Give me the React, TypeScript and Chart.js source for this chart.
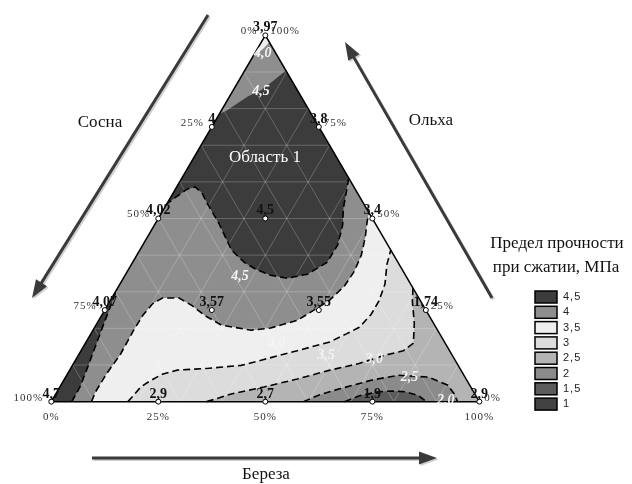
import React, { useEffect, useRef } from "react";
import { Chart, registerables } from "chart.js";

Chart.register(...registerables);

type TP = [number, number]; // [Береза %, Ольха %]; Сосна = 100 - Береза - Ольха

// ---------------- data ----------------
const gridSteps = [10, 20, 30, 40, 50, 60, 70, 80, 90];
const edgeTicks = [0, 25, 50, 75, 100];

const sampleBereza = [0, 0, 0, 0, 0, 25, 50, 75, 100, 25, 50, 75, 25, 25, 50];
const sampleOlkha = [100, 75, 50, 25, 0, 75, 50, 25, 0, 0, 0, 0, 50, 25, 25];
const sampleValues = [3.97, 4, 4.02, 4.07, 4.7, 3.8, 3.4, 1.74, 2.9, 2.9, 2.7, 1.9, 4.5, 3.57, 3.55];

const legendLabels = ["4,5", "4", "3,5", "3", "2,5", "2", "1,5", "1"];
const legendColors = ["#3c3c3c", "#8e8e8e", "#efefef", "#dcdcdc", "#b4b4b4", "#8b8b8b", "#5c5c5c", "#424242"];

// contour lines (ternary coordinates)
const contour45: TP[] = [
  [39.0, 61.0], [40.2, 57.5], [41.8, 52.9], [44.0, 48.1], [45.5, 42.8], [45.4, 38.0], [42.4, 34.8],
  [38.3, 33.7], [34.0, 34.5], [29.8, 36.1], [26.1, 38.0], [21.4, 41.4], [14.8, 48.7], [9.2, 54.3],
  [6.7, 57.0], [4.3, 58.6], [2.7, 58.0], [1.4, 56.1], [0, 54.0],
];
const contour45Top: TP[] = [
  [0, 78.5], [1.2, 79.4], [2.9, 81.6], [4.3, 83.4], [6.5, 85.0], [8.1, 87.7], [9.6, 90.4],
];
const contour45Strip: TP[] = [
  [4.8, 0], [4.7, 4.0], [3.8, 9.4], [2.1, 18.7], [0.7, 26.7], [0, 30.7],
];
const contour40: TP[] = [
  [9.4, 0], [9.0, 2.7], [9.1, 7.5], [9.7, 12.8], [9.5, 19.3], [9.6, 23.5], [10.3, 26.7], [11.8, 28.3],
  [15.7, 28.3], [19.8, 26.2], [24.1, 23.5], [29.3, 20.9], [36.9, 19.5], [41.2, 20.1], [46.4, 22.2],
  [49.0, 25.1], [51.2, 27.8], [52.7, 31.6], [53.0, 35.6], [52.4, 40.1], [50.9, 44.9], [49.3, 48.9], [48.4, 51.6],
];
const contour40Top: TP[] = [[1.9, 98.1], [1.3, 96.3], [0, 93.9]];
const contour35: TP[] = [
  [17.9, 0], [18.4, 1.9], [18.9, 4.0], [20.2, 5.6], [22.2, 7.5], [25.1, 8.6], [32.2, 9.1], [39.4, 9.9],
  [43.9, 11.5], [50.5, 13.9], [56.9, 16.3], [59.7, 18.5], [61.8, 20.3], [62.8, 23.8], [62.8, 27.5],
  [61.9, 32.1], [59.7, 37.4], [58.6, 41.4],
];
const contour30: TP[] = [
  [36.3, 0], [38.2, 0.8], [41.0, 2.1], [47.7, 4.0], [54.4, 6.2], [60.8, 8.6], [66.7, 10.4], [71.4, 12.6],
  [75.3, 13.9], [76.6, 16.0], [74.1, 21.4], [70.6, 27.5], [69.0, 31.0],
];
const contour25: TP[] = [
  [58.9, 0], [61.8, 1.9], [65.6, 3.5], [72.0, 5.9], [77.5, 7.2], [84.7, 6.7], [90.4, 4.5], [93.3, 1.9], [94.9, 0],
];
const contour20: TP[] = [
  [68.5, 0], [71.2, 1.6], [75.2, 2.7], [78.1, 2.9], [81.4, 2.7], [85.0, 1.6], [87.6, 0],
];

const contourLabels = ["4,0", "4,5", "4,5", "4,0", "3,5", "3,0", "2,5", "2,0"];
const contourLabelAt: TP[] = [
  [1.8, 95.2], [6.6, 84.8], [27.0, 34.2], [44.6, 16.0], [57.9, 12.6], [69.7, 11.5], [80.3, 6.7], [92.0, 0.3],
];
const regionLabel = "Область 1";
const regionLabelAt: TP = [16.6, 66.6];

// ---------------- helpers ----------------
const toXY = (p: TP) => ({ x: p[0] + p[1] / 2, y: p[1] });
const fmt = (v: number) => String(v).replace(".", ",");

const polygon = (pts: TP[], color: string, order: number) => ({
  data: pts.map(toXY),
  showLine: true,
  fill: "shape",
  backgroundColor: color,
  borderColor: "rgba(0,0,0,0)",
  borderWidth: 0,
  pointRadius: 0,
  pointHoverRadius: 0,
  tension: 0,
  order,
});

const polyline = (pts: TP[], color: string, width: number, dash: number[], order: number) => ({
  data: pts.map(toXY),
  showLine: true,
  fill: false,
  borderColor: color,
  backgroundColor: color,
  borderWidth: width,
  borderDash: dash,
  pointRadius: 0,
  pointHoverRadius: 0,
  tension: 0,
  order,
});

function drawArrow(ctx: CanvasRenderingContext2D, x1: number, y1: number, x2: number, y2: number, color: string) {
  const ang = Math.atan2(y2 - y1, x2 - x1);
  const hl = 18, hw = 13;
  const bx = x2 - hl * Math.cos(ang), by = y2 - hl * Math.sin(ang);
  ctx.strokeStyle = color;
  ctx.fillStyle = color;
  ctx.lineWidth = 3;
  ctx.beginPath();
  ctx.moveTo(x1, y1);
  ctx.lineTo(bx + 2 * Math.cos(ang), by + 2 * Math.sin(ang));
  ctx.stroke();
  ctx.beginPath();
  ctx.moveTo(x2, y2);
  ctx.lineTo(bx + (hw / 2) * Math.sin(ang), by - (hw / 2) * Math.cos(ang));
  ctx.lineTo(bx - (hw / 2) * Math.sin(ang), by + (hw / 2) * Math.cos(ang));
  ctx.closePath();
  ctx.fill();
}

const decorPlugin = {
  id: "ternaryDecor",
  afterDatasetsDraw(chart: any) {
    const ctx: CanvasRenderingContext2D = chart.ctx;
    const sx = chart.scales.x, sy = chart.scales.y;
    const P = (b: number, o: number) => [sx.getPixelForValue(b + o / 2), sy.getPixelForValue(o)];
    ctx.save();

    // contour labels (white italic)
    ctx.font = "italic bold 14px 'Liberation Serif', serif";
    ctx.fillStyle = "#f4f4f4";
    ctx.textAlign = "center";
    ctx.textBaseline = "middle";
    contourLabels.forEach((t, i) => {
      const [x, y] = P(contourLabelAt[i][0], contourLabelAt[i][1]);
      ctx.fillText(t, x, y);
    });

    // region label
    ctx.font = "17px 'Liberation Serif', serif";
    ctx.fillStyle = "#ffffff";
    {
      const [x, y] = P(regionLabelAt[0], regionLabelAt[1]);
      ctx.fillText(regionLabel, x, y);
    }

    // sample value labels
    ctx.font = "bold 14px 'Liberation Serif', serif";
    ctx.fillStyle = "#111111";
    ctx.textBaseline = "alphabetic";
    sampleValues.forEach((v, i) => {
      const [x, y] = P(sampleBereza[i], sampleOlkha[i]);
      ctx.fillText(fmt(v), x, y - 4);
    });

    // edge tick labels
    ctx.font = "11px 'Liberation Serif', serif";
    (ctx as any).letterSpacing = "1px";
    ctx.fillStyle = "#333333";
    ctx.textBaseline = "middle";
    edgeTicks.forEach((t) => {
      // Береза (bottom)
      let [x, y] = P(t, 0);
      ctx.textAlign = "center";
      ctx.fillText(t + "%", x, y + 15);
      // Сосна (left edge)
      [x, y] = P(0, 100 - t);
      ctx.textAlign = "right";
      ctx.fillText(t + "%", x - 8, y - 4);
      // Ольха (right edge)
      [x, y] = P(100 - t, t);
      ctx.textAlign = "left";
      ctx.fillText(t + "%", x + 5, y - 4);
    });
    (ctx as any).letterSpacing = "0px";

    // axis names and arrows
    ctx.font = "17px 'Liberation Serif', serif";
    ctx.fillStyle = "#111111";
    ctx.textAlign = "center";
    ctx.fillText("Сосна", 100, 123);
    ctx.fillText("Ольха", 431, 121);
    ctx.fillText("Береза", 266, 475);

    const arrows = [
      [208, 15, 32, 298],
      [492, 298, 345, 42],
      [92, 458, 437, 458],
    ];
    arrows.forEach(([a, b, c, d]) => drawArrow(ctx, a + 1.5, b + 1.5, c + 1.5, d + 1.5, "#cfcfcf"));
    arrows.forEach(([a, b, c, d]) => drawArrow(ctx, a, b, c, d, "#3a3a3a"));

    // legend
    ctx.fillStyle = "#111111";
    ctx.font = "17px 'Liberation Serif', serif";
    ctx.textAlign = "center";
    ctx.fillText("Предел прочности", 557, 244);
    ctx.fillText("при сжатии, МПа", 556, 268);
    legendLabels.forEach((lab, i) => {
      const yc = 297 + i * 15.3;
      ctx.fillStyle = legendColors[i];
      ctx.fillRect(535, yc - 6, 22, 12);
      ctx.strokeStyle = "#000000";
      ctx.lineWidth = 1.5;
      ctx.strokeRect(535, yc - 6, 22, 12);
      ctx.fillStyle = "#222222";
      ctx.font = "11px 'Liberation Sans', sans-serif";
      (ctx as any).letterSpacing = "1px";
      ctx.textAlign = "left";
      ctx.fillText(lab, 563, yc);
      (ctx as any).letterSpacing = "0px";
    });

    ctx.restore();
  },
};

export default function App() {
  const canvasRef = useRef<HTMLCanvasElement | null>(null);

  useEffect(() => {
    const canvas = canvasRef.current;
    if (!canvas) return;

    const datasets: any[] = [];
    // filled bands (higher order = painted earlier)
    datasets.push(polygon([[0, 0], [100, 0], [0, 100]], legendColors[4], 100));
    datasets.push(polygon(contour25, legendColors[5], 99));
    datasets.push(polygon(contour20, legendColors[6], 98));
    datasets.push(polygon([...contour30, [0, 100], [0, 0]], legendColors[3], 97));
    datasets.push(polygon([...contour35, [0, 100], [0, 0]], legendColors[2], 96));
    datasets.push(polygon([...contour40, ...contour40Top, [0, 0]], legendColors[1], 95));
    datasets.push(polygon([...contour45, ...contour45Top], legendColors[0], 94));
    datasets.push(polygon([[0, 0], ...contour45Strip], legendColors[0], 93));

    // grid
    const gridColor = "rgba(255,255,255,0.32)";
    gridSteps.forEach((k) => {
      datasets.push(polyline([[0, k], [100 - k, k]], gridColor, 0.7, [], 50));
      datasets.push(polyline([[k, 0], [k, 100 - k]], gridColor, 0.7, [], 50));
      datasets.push(polyline([[100 - k, 0], [0, 100 - k]], gridColor, 0.7, [], 50));
    });

    // contour lines
    const dash = [7, 4];
    [contour45, contour45Strip, contour40, contour35, contour30, contour25, contour20].forEach((c) =>
      datasets.push(polyline(c, "#000000", 1.6, dash, 20))
    );

    // triangle outline
    datasets.push(polyline([[0, 0], [100, 0], [0, 100], [0, 0]], "#000000", 1.5, [], 10));

    // sample points
    datasets.push({
      data: sampleBereza.map((b, i) => toXY([b, sampleOlkha[i]])),
      showLine: false,
      pointRadius: 2.5,
      pointBackgroundColor: "#ffffff",
      pointBorderColor: "#000000",
      pointBorderWidth: 1,
      order: 1,
    });

    const chart = new Chart(canvas, {
      type: "scatter",
      data: { datasets },
      options: {
        animation: false,
        responsive: false,
        devicePixelRatio: 1,
        events: [],
        layout: { padding: 0 },
        scales: {
          x: { type: "linear", min: -10.8046, max: 134.4828, display: false },
          y: { type: "linear", min: -21.123, max: 108.2888, display: false },
        },
        plugins: {
          legend: { display: false },
          tooltip: { enabled: false },
        },
      } as any,
      plugins: [decorPlugin as any],
    });

    return () => chart.destroy();
  }, []);

  return (
    <div style={{ position: "fixed", left: 0, top: 0, width: 632, height: 484, background: "#ffffff" }}>
      <canvas ref={canvasRef} width={632} height={484} style={{ display: "block" }} />
    </div>
  );
}
